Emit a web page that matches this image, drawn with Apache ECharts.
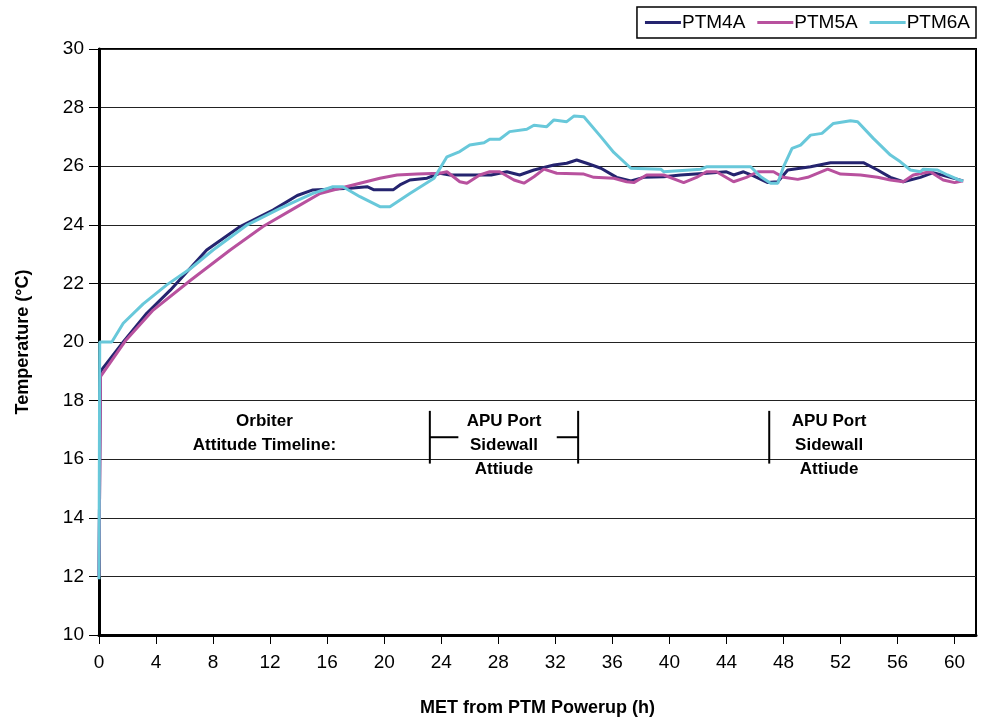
<!DOCTYPE html>
<html>
<head>
<meta charset="utf-8">
<script src="https://cdn.jsdelivr.net/npm/echarts@6/dist/echarts.min.js"></script>
<style>
  html, body { margin: 0; padding: 0; background: #fff; }
  #chart { width: 981px; height: 725px; }
</style>
</head>
<body>
<div id="chart"></div>
<script>
// hours / temperatures
var ptm4aHours = [0, 0.1, 1.7, 3.35, 5.0, 7.55, 9.9, 12.2, 13.9, 15.0, 17.6, 18.8, 19.25, 20.65, 21.1, 21.8, 23.0, 23.9, 24.6, 26.5, 27.5, 28.6, 29.5, 30.5, 31.9, 32.8, 33.5, 34.2, 35.2, 36.3, 37.3, 38.2, 39.6, 40.8, 42.6, 44.0, 44.5, 45.2, 45.9, 46.9, 47.6, 48.3, 49.9, 51.3, 53.6, 54.6, 55.5, 56.4, 57.6, 58.5, 59.7, 60.6];
var ptm4aTemps = [12.0, 19.0, 20.0, 20.98, 21.77, 23.14, 23.94, 24.5, 25.0, 25.19, 25.25, 25.3, 25.2, 25.2, 25.36, 25.53, 25.59, 25.76, 25.7, 25.7, 25.7, 25.81, 25.7, 25.87, 26.04, 26.1, 26.21, 26.1, 25.93, 25.62, 25.5, 25.62, 25.64, 25.7, 25.76, 25.81, 25.7, 25.81, 25.67, 25.44, 25.47, 25.87, 25.98, 26.12, 26.12, 25.87, 25.62, 25.47, 25.62, 25.78, 25.62, 25.5];

var ptm5aHours = [0, 0.1, 1.9, 3.8, 6.4, 9.2, 11.5, 13.9, 15.5, 16.9, 18.3, 19.7, 20.9, 22.3, 23.9, 24.4, 25.3, 25.8, 26.7, 27.4, 28.1, 29.1, 29.8, 30.5, 31.2, 32.1, 34.0, 34.7, 36.1, 37.0, 37.5, 38.4, 39.6, 41.0, 41.9, 42.6, 43.3, 44.5, 45.4, 46.2, 47.3, 48.0, 49.0, 49.7, 51.1, 52.0, 53.4, 54.6, 55.5, 56.4, 57.1, 58.3, 59.2, 60.0, 60.6];
var ptm5aTemps = [12.0, 18.82, 20.07, 21.09, 22.1, 23.14, 23.94, 24.62, 25.07, 25.25, 25.42, 25.59, 25.7, 25.73, 25.76, 25.81, 25.47, 25.42, 25.7, 25.81, 25.81, 25.53, 25.42, 25.64, 25.9, 25.76, 25.73, 25.62, 25.59, 25.47, 25.44, 25.7, 25.7, 25.44, 25.62, 25.81, 25.81, 25.47, 25.62, 25.81, 25.81, 25.62, 25.55, 25.62, 25.9, 25.73, 25.7, 25.62, 25.53, 25.47, 25.7, 25.81, 25.53, 25.44, 25.5];

var ptm6aHours = [0, 0.05, 0.9, 1.7, 3.1, 4.75, 6.4, 8.0, 10.4, 12.7, 15.0, 16.4, 17.1, 18.3, 19.7, 20.4, 21.8, 23.5, 24.4, 25.3, 26.0, 27.0, 27.4, 28.1, 28.8, 30.0, 30.5, 31.4, 31.9, 32.8, 33.3, 34.0, 35.2, 36.1, 37.3, 39.4, 39.6, 42.2, 42.6, 45.7, 46.4, 47.1, 47.6, 48.0, 48.6, 49.2, 49.9, 50.7, 51.5, 52.7, 53.2, 54.3, 55.5, 56.2, 56.9, 57.6, 57.8, 58.8, 59.5, 60.3, 60.6];
var ptm6aTemps = [11.9, 20.0, 20.0, 20.64, 21.3, 21.95, 22.5, 23.14, 24.0, 24.56, 25.07, 25.3, 25.3, 24.96, 24.62, 24.62, 25.07, 25.59, 26.32, 26.5, 26.72, 26.8, 26.92, 26.92, 27.18, 27.26, 27.4, 27.35, 27.58, 27.52, 27.71, 27.69, 27.0, 26.47, 25.93, 25.9, 25.81, 25.9, 25.98, 25.98, 25.64, 25.42, 25.42, 25.98, 26.61, 26.72, 27.06, 27.12, 27.46, 27.55, 27.52, 26.95, 26.38, 26.15, 25.87, 25.81, 25.9, 25.87, 25.7, 25.53, 25.5];

var seriesNames = ['PTM4A', 'PTM5A', 'PTM6A'];
var seriesColors = ['#25246f', '#b8519e', '#68c8da'];

function pairs(xs, ys) {
    return xs.map(function (x, i) { return [x, ys[i]]; });
}
var allData = [
    pairs(ptm4aHours, ptm4aTemps),
    pairs(ptm5aHours, ptm5aTemps),
    pairs(ptm6aHours, ptm6aTemps)
];

var narrow = '"Liberation Sans Narrow", "Arial Narrow", "Liberation Sans", sans-serif';

var chart = echarts.init(document.getElementById('chart'));
chart.setOption({
    animation: false,
    backgroundColor: '#fff',
    grid: {
        left: 99, right: 5, top: 49, bottom: 90,
        show: true, borderColor: '#000', borderWidth: 2
    },
    legend: {
        right: 5, top: 7,
        data: seriesNames,
        icon: 'rect',
        itemWidth: 36, itemHeight: 3, itemGap: 12,
        borderColor: '#000', borderWidth: 1.5,
        padding: [6, 6, 6, 8],
        textStyle: { fontFamily: narrow, fontSize: 19, color: '#000', padding: [0, 0, 0, -4] }
    },
    xAxis: {
        type: 'value', min: 0, max: 61.5, interval: 4,
        name: 'MET from PTM Powerup (h)',
        nameLocation: 'middle', nameGap: 64,
        nameTextStyle: { fontFamily: narrow, fontWeight: 'bold', fontSize: 18, color: '#000' },
        axisLine: { lineStyle: { color: '#000', width: 3 } },
        axisTick: { show: true, length: 9, lineStyle: { color: '#000', width: 1 } },
        axisLabel: {
            fontFamily: narrow, fontSize: 19, color: '#000', margin: 18,
            showMaxLabel: false,
            formatter: function (v) { return v % 4 === 0 ? String(v) : ''; }
        },
        splitLine: { show: false }
    },
    yAxis: {
        type: 'value', min: 10, max: 30, interval: 2,
        name: 'Temperature (°C)',
        nameLocation: 'middle', nameGap: 67,
        nameTextStyle: { fontFamily: narrow, fontWeight: 'bold', fontSize: 18, color: '#000' },
        axisLine: { show: true, lineStyle: { color: '#000', width: 3 } },
        axisTick: { show: true, length: 10, lineStyle: { color: '#000', width: 1 } },
        axisLabel: { fontFamily: narrow, fontSize: 19, color: '#000', margin: 15 },
        splitLine: { show: true, lineStyle: { color: '#222', width: 1.2 } }
    },
    series: seriesNames.map(function (name, i) {
        return {
            name: name,
            type: 'line',
            data: allData[i],
            showSymbol: false,
            symbol: 'none',
            lineStyle: { color: seriesColors[i], width: 3 },
            itemStyle: { color: seriesColors[i] },
            z: i === 2 ? 3 : 2
        };
    })
});

// attitude timeline annotations, placed in data coordinates
function px(x, y) { return chart.convertToPixel({ gridIndex: 0 }, [x, y]); }
var txtStyle = { fontFamily: narrow, fontWeight: 'bold', fontSize: 17, fill: '#000', align: 'center', lineHeight: 24 };
var elems = [];
function vline(x, y1, y2) {
    var a = px(x, y1), b = px(x, y2);
    elems.push({ type: 'line', shape: { x1: a[0], y1: a[1], x2: b[0], y2: b[1] }, style: { stroke: '#000', lineWidth: 2 } });
}
function hline(x1, x2, y) {
    var a = px(x1, y), b = px(x2, y);
    elems.push({ type: 'line', shape: { x1: a[0], y1: a[1], x2: b[0], y2: b[1] }, style: { stroke: '#000', lineWidth: 2 } });
}
function label(x, y, text) {
    var p = px(x, y);
    elems.push({ type: 'text', x: p[0], y: p[1], style: Object.assign({ text: text }, txtStyle) });
}
label(11.6, 17.7, 'Orbiter\nAttitude Timeline:');
vline(23.2, 17.65, 15.85);
vline(33.6, 17.65, 15.85);
hline(23.2, 25.2, 16.75);
hline(32.1, 33.6, 16.75);
label(28.4, 17.7, 'APU Port\nSidewall\nAttiude');
vline(47.0, 17.65, 15.85);
label(51.2, 17.7, 'APU Port\nSidewall\nAttiude');
chart.setOption({ graphic: elems });
</script>
</body>
</html>
